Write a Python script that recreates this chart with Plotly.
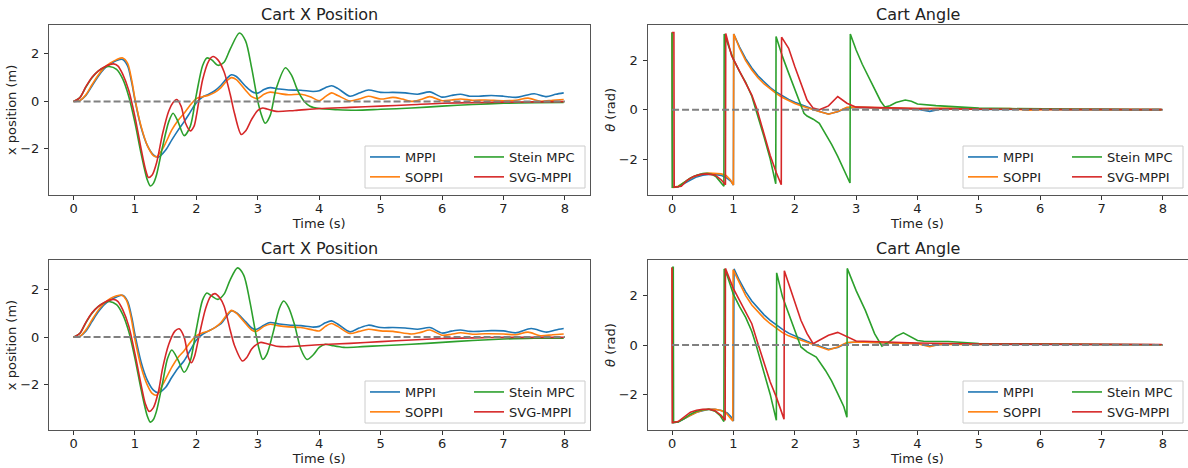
import plotly.graph_objects as go

# ---------------- Cart X Position (top run) ----------------
t_xa_mppi = [0, 0.1, 0.2, 0.3, 0.4, 0.5, 0.6, 0.7, 0.8, 0.88, 0.95, 1.0, 1.1, 1.2, 1.3, 1.38, 1.5, 1.6, 1.7, 1.8, 1.9, 2.0, 2.1, 2.2, 2.3, 2.4, 2.5, 2.57, 2.65, 2.8, 2.9, 3.0, 3.1, 3.2, 3.35, 3.5, 3.7, 3.9, 4.0, 4.1, 4.2, 4.3, 4.5, 4.65, 4.8, 5.0, 5.2, 5.4, 5.6, 5.8, 6.0, 6.15, 6.3, 6.45, 6.6, 6.8, 7.0, 7.2, 7.35, 7.5, 7.7, 7.85, 7.98]
x_xa_mppi = [0, 0.03, 0.25, 0.65, 1.05, 1.38, 1.58, 1.72, 1.77, 1.5, 0.75, 0.05, -1.1, -1.85, -2.25, -2.35, -2.05, -1.62, -1.22, -0.85, -0.45, -0.05, 0.18, 0.3, 0.45, 0.68, 0.98, 1.12, 1.05, 0.64, 0.42, 0.35, 0.5, 0.58, 0.52, 0.48, 0.47, 0.42, 0.45, 0.58, 0.66, 0.55, 0.22, 0.35, 0.48, 0.38, 0.38, 0.36, 0.3, 0.4, 0.18, 0.25, 0.3, 0.22, 0.22, 0.25, 0.22, 0.17, 0.25, 0.32, 0.2, 0.3, 0.36]

t_xa_soppi = [0, 0.1, 0.2, 0.3, 0.4, 0.5, 0.6, 0.7, 0.8, 0.88, 0.95, 1.0, 1.1, 1.2, 1.3, 1.35, 1.45, 1.6, 1.7, 1.8, 1.9, 2.0, 2.1, 2.2, 2.3, 2.4, 2.5, 2.57, 2.65, 2.8, 2.9, 3.0, 3.1, 3.2, 3.35, 3.5, 3.7, 3.85, 4.0, 4.1, 4.2, 4.3, 4.5, 4.65, 4.8, 5.0, 5.2, 5.35, 5.5, 5.65, 5.8, 6.0, 6.15, 6.3, 6.5, 6.7, 7.0, 7.2, 7.4, 7.6, 7.8, 7.98]
x_xa_soppi = [0, 0.03, 0.28, 0.7, 1.1, 1.42, 1.62, 1.76, 1.83, 1.6, 0.85, 0.1, -1.05, -1.85, -2.28, -2.33, -2.0, -1.2, -0.8, -0.5, -0.15, 0.12, 0.2, 0.26, 0.38, 0.58, 0.88, 1.0, 0.92, 0.47, 0.2, 0.12, 0.3, 0.39, 0.33, 0.28, 0.3, 0.2, 0.03, 0.2, 0.36, 0.25, 0.02, 0.1, 0.22, 0.1, 0.17, 0.1, 0.0, 0.08, 0.2, 0.03, 0.06, 0.1, 0.05, 0.06, 0.03, 0.05, 0.14, 0.01, 0.05, 0.08]

t_xa_stein = [0, 0.1, 0.2, 0.3, 0.4, 0.5, 0.58, 0.7, 0.8, 0.9, 1.0, 1.1, 1.2, 1.25, 1.3, 1.35, 1.45, 1.55, 1.62, 1.7, 1.8, 1.9, 2.0, 2.1, 2.17, 2.25, 2.35, 2.45, 2.55, 2.7, 2.8, 2.9, 3.0, 3.05, 3.12, 3.2, 3.3, 3.45, 3.55, 3.65, 3.75, 3.85, 4.0, 4.3, 4.6, 5.0, 5.5, 6.0, 6.5, 7.0, 7.5, 7.98]
x_xa_stein = [0, 0.15, 0.6, 1.0, 1.28, 1.43, 1.47, 1.35, 0.95, 0.2, -0.9, -2.2, -3.3, -3.56, -3.45, -3.1, -1.9, -0.85, -0.5, -0.85, -1.44, -1.05, 0.3, 1.5, 1.83, 1.75, 1.52, 1.65, 2.2, 2.88, 2.55, 1.4, 0.0, -0.5, -0.92, -0.6, 0.55, 1.42, 1.1, 0.45, 0.02, -0.2, -0.3, -0.35, -0.37, -0.33, -0.28, -0.2, -0.13, -0.08, -0.05, -0.04]

t_xa_svg = [0, 0.1, 0.2, 0.3, 0.4, 0.5, 0.6, 0.65, 0.72, 0.8, 0.9, 1.0, 1.1, 1.17, 1.22, 1.28, 1.35, 1.45, 1.55, 1.62, 1.68, 1.75, 1.82, 1.9, 1.96, 2.0, 2.1, 2.2, 2.27, 2.35, 2.45, 2.55, 2.62, 2.73, 2.8, 2.9, 3.0, 3.08, 3.15, 3.3, 3.6, 4.0, 4.5, 5.0, 5.5, 6.0, 6.5, 7.0, 7.5, 7.98]
x_xa_svg = [0, 0.15, 0.62, 1.02, 1.28, 1.45, 1.56, 1.58, 1.5, 1.15, 0.45, -0.65, -2.0, -2.85, -3.2, -3.1, -2.6, -1.35, -0.4, -0.05, 0.08, -0.2, -0.9, -1.24, -1.05, -0.6, 0.9, 1.7, 1.89, 1.75, 1.25, 0.3, -0.5, -1.39, -1.25, -0.75, -0.38, -0.28, -0.32, -0.42, -0.38, -0.3, -0.25, -0.2, -0.14, -0.08, -0.05, -0.03, -0.02, -0.01]

# ---------------- Cart X Position (bottom run) ----------------
t_xb_mppi = [0, 0.1, 0.2, 0.3, 0.4, 0.5, 0.6, 0.7, 0.8, 0.88, 0.95, 1.0, 1.1, 1.2, 1.3, 1.38, 1.5, 1.6, 1.7, 1.8, 1.9, 2.0, 2.1, 2.2, 2.3, 2.4, 2.5, 2.57, 2.65, 2.8, 2.9, 2.97, 3.1, 3.2, 3.35, 3.5, 3.7, 3.9, 4.0, 4.1, 4.2, 4.3, 4.5, 4.65, 4.8, 5.0, 5.2, 5.4, 5.6, 5.8, 6.0, 6.15, 6.3, 6.45, 6.6, 6.8, 7.0, 7.2, 7.45, 7.7, 7.85, 7.98]
x_xb_mppi = [0, 0.03, 0.25, 0.65, 1.05, 1.36, 1.55, 1.68, 1.75, 1.5, 0.8, 0.1, -1.05, -1.8, -2.22, -2.33, -2.1, -1.68, -1.3, -0.99, -0.55, -0.12, 0.12, 0.26, 0.4, 0.56, 0.9, 1.1, 1.02, 0.65, 0.38, 0.32, 0.5, 0.61, 0.55, 0.51, 0.48, 0.42, 0.45, 0.6, 0.68, 0.55, 0.22, 0.38, 0.5, 0.4, 0.4, 0.38, 0.33, 0.4, 0.17, 0.25, 0.3, 0.24, 0.24, 0.27, 0.26, 0.18, 0.36, 0.21, 0.3, 0.36]

t_xb_soppi = [0, 0.1, 0.2, 0.3, 0.4, 0.5, 0.6, 0.7, 0.78, 0.86, 0.93, 1.0, 1.1, 1.2, 1.28, 1.35, 1.45, 1.6, 1.7, 1.8, 1.9, 2.0, 2.1, 2.2, 2.3, 2.4, 2.5, 2.57, 2.65, 2.8, 2.9, 2.97, 3.1, 3.2, 3.35, 3.5, 3.7, 3.9, 4.0, 4.1, 4.2, 4.3, 4.5, 4.65, 4.8, 5.0, 5.2, 5.5, 5.65, 5.8, 6.0, 6.15, 6.3, 6.5, 6.7, 7.0, 7.2, 7.4, 7.6, 7.8, 7.98]
x_xb_soppi = [0, 0.03, 0.3, 0.72, 1.12, 1.42, 1.62, 1.73, 1.76, 1.55, 0.9, -0.1, -1.25, -2.0, -2.36, -2.43, -2.0, -1.26, -0.85, -0.57, -0.22, 0.06, 0.18, 0.26, 0.4, 0.61, 0.95, 1.12, 1.0, 0.57, 0.3, 0.24, 0.45, 0.54, 0.47, 0.43, 0.4, 0.3, 0.26, 0.45, 0.57, 0.45, 0.15, 0.24, 0.33, 0.26, 0.24, 0.13, 0.2, 0.3, 0.08, 0.12, 0.18, 0.12, 0.14, 0.13, 0.1, 0.21, 0.06, 0.1, 0.13]

t_xb_stein = [0, 0.1, 0.2, 0.3, 0.4, 0.5, 0.58, 0.7, 0.8, 0.9, 1.0, 1.1, 1.2, 1.25, 1.3, 1.35, 1.45, 1.53, 1.6, 1.7, 1.8, 1.9, 2.0, 2.1, 2.17, 2.25, 2.35, 2.45, 2.55, 2.67, 2.77, 2.87, 2.97, 3.02, 3.08, 3.15, 3.25, 3.35, 3.42, 3.5, 3.6, 3.7, 3.8, 3.9, 4.0, 4.1, 4.2, 4.4, 4.7, 5.0, 5.5, 6.0, 6.5, 7.0, 7.5, 7.98]
x_xb_stein = [0, 0.15, 0.6, 1.0, 1.28, 1.44, 1.49, 1.36, 0.95, 0.22, -0.9, -2.2, -3.3, -3.56, -3.45, -3.1, -1.9, -0.9, -0.54, -0.95, -1.47, -1.0, 0.35, 1.55, 1.85, 1.72, 1.58, 1.8, 2.4, 2.9, 2.6, 1.5, 0.1, -0.5, -0.93, -0.7, 0.2, 1.2, 1.51, 1.25, 0.5, -0.5, -0.94, -0.75, -0.43, -0.3, -0.35, -0.43, -0.4, -0.36, -0.3, -0.22, -0.14, -0.08, -0.05, -0.04]

t_xb_svg = [0, 0.1, 0.2, 0.3, 0.4, 0.5, 0.6, 0.65, 0.72, 0.8, 0.9, 1.0, 1.1, 1.17, 1.23, 1.3, 1.38, 1.45, 1.55, 1.65, 1.72, 1.8, 1.87, 1.92, 1.97, 2.05, 2.15, 2.23, 2.3, 2.38, 2.45, 2.55, 2.62, 2.75, 2.82, 2.9, 3.0, 3.05, 3.15, 3.3, 3.5, 4.0, 4.5, 5.0, 5.5, 6.0, 6.5, 7.0, 7.98]
x_xb_svg = [0, 0.15, 0.62, 1.02, 1.28, 1.45, 1.56, 1.58, 1.5, 1.15, 0.45, -0.7, -2.0, -2.8, -3.11, -2.95, -2.3, -1.3, -0.3, 0.25, 0.35, 0.0, -0.85, -1.07, -0.8, 0.13, 1.2, 1.7, 1.82, 1.65, 1.3, 0.3, -0.35, -1.0, -0.85, -0.5, -0.27, -0.22, -0.28, -0.38, -0.4, -0.32, -0.26, -0.19, -0.12, -0.06, -0.03, -0.01, -0.01]

# ---------------- Cart Angle (top run) ----------------
t_aa_mppi = [0, 0.01, 0.1, 0.2, 0.3, 0.4, 0.5, 0.6, 0.7, 0.8, 0.9, 0.96, 1.0, 1.005, 1.1, 1.2, 1.3, 1.4, 1.5, 1.6, 1.7, 1.8, 1.9, 2.0, 2.1, 2.2, 2.3, 2.4, 2.55, 2.7, 2.85, 3.0, 3.3, 3.6, 4.0, 4.2, 4.35, 4.6, 5.0, 5.5, 6.0, 6.5, 7.0, 7.5, 7.98]
a_aa_mppi = [3.14, -3.14, -3.12, -3.0, -2.85, -2.72, -2.65, -2.62, -2.62, -2.66, -2.78, -2.9, -3.05, 3.08, 2.55, 2.08, 1.7, 1.38, 1.12, 0.9, 0.72, 0.56, 0.42, 0.31, 0.21, 0.12, 0.03, -0.07, -0.17, -0.08, 0.08, 0.1, 0.08, 0.06, 0.03, -0.06, 0.02, 0.05, 0.02, 0.02, 0.03, 0.0, 0.02, 0.0, 0.01]

t_aa_soppi = [0, 0.01, 0.1, 0.2, 0.3, 0.4, 0.5, 0.6, 0.7, 0.8, 0.88, 0.95, 1.0, 1.005, 1.1, 1.2, 1.3, 1.4, 1.5, 1.6, 1.7, 1.8, 1.9, 2.0, 2.1, 2.2, 2.3, 2.4, 2.55, 2.7, 2.85, 3.0, 3.3, 3.6, 4.0, 4.5, 5.0, 5.5, 5.8, 6.2, 7.0, 7.98]
a_aa_soppi = [3.14, -3.14, -3.1, -2.95, -2.78, -2.67, -2.6, -2.57, -2.57, -2.6, -2.66, -2.84, -3.05, 3.08, 2.5, 2.0, 1.62, 1.3, 1.05, 0.84, 0.66, 0.5, 0.37, 0.26, 0.17, 0.1, 0.02, -0.07, -0.18, -0.07, 0.1, 0.11, 0.09, 0.07, 0.05, 0.07, 0.03, 0.05, -0.01, 0.02, 0.01, 0.01]

t_aa_stein = [0, 0.005, 0.1, 0.2, 0.3, 0.4, 0.5, 0.57, 0.65, 0.72, 0.8, 0.845, 0.85, 0.9, 1.0, 1.1, 1.2, 1.3, 1.37, 1.5, 1.6, 1.69, 1.695, 1.8, 1.9, 2.0, 2.1, 2.15, 2.2, 2.3, 2.4, 2.5, 2.6, 2.7, 2.8, 2.9, 2.905, 3.0, 3.1, 3.2, 3.3, 3.4, 3.47, 3.55, 3.65, 3.8, 3.9, 4.0, 4.3, 4.6, 5.0, 5.5, 6.0, 7.0, 7.98]
a_aa_stein = [3.14, -3.14, -3.12, -2.95, -2.76, -2.65, -2.59, -2.58, -2.62, -2.72, -2.95, -3.1, 3.08, 2.75, 2.05, 1.55, 1.12, 0.55, 0.0, -1.1, -2.0, -3.0, 2.98, 2.16, 1.49, 0.81, 0.14, -0.14, -0.25, -0.38, -0.55, -0.95, -1.4, -1.89, -2.4, -2.97, 3.08, 2.43, 1.85, 1.35, 0.85, 0.35, 0.11, 0.17, 0.3, 0.4, 0.35, 0.24, 0.17, 0.12, 0.07, 0.05, 0.03, 0.02, 0.01]

t_aa_svg = [0, 0.03, 0.035, 0.15, 0.25, 0.35, 0.45, 0.55, 0.7, 0.8, 0.87, 0.875, 0.97, 1.1, 1.2, 1.3, 1.38, 1.5, 1.6, 1.7, 1.78, 1.785, 1.9, 2.0, 2.1, 2.2, 2.3, 2.4, 2.55, 2.7, 2.85, 3.0, 3.5, 4.0, 5.0, 6.0, 7.0, 7.98]
a_aa_svg = [3.14, 3.14, -3.14, -3.1, -2.85, -2.7, -2.63, -2.6, -2.64, -2.84, -3.04, 3.1, 2.2, 1.55, 1.1, 0.6, 0.05, -1.0, -1.85, -2.55, -3.04, 2.95, 2.5, 1.76, 1.08, 0.4, 0.07, 0.0, 0.16, 0.54, 0.27, 0.11, 0.08, 0.05, 0.03, 0.02, 0.01, 0.01]

# ---------------- Cart Angle (bottom run) ----------------
t_ab_mppi = [0, 0.01, 0.1, 0.2, 0.3, 0.4, 0.5, 0.6, 0.7, 0.8, 0.9, 0.96, 1.0, 1.01, 1.1, 1.2, 1.3, 1.4, 1.5, 1.6, 1.7, 1.8, 1.9, 2.0, 2.1, 2.2, 2.3, 2.4, 2.55, 2.7, 2.85, 3.0, 3.5, 4.0, 4.2, 4.5, 5.0, 6.0, 7.0, 7.98]
a_ab_mppi = [3.14, -3.14, -3.12, -3.0, -2.85, -2.72, -2.65, -2.6, -2.6, -2.65, -2.75, -2.9, -3.08, 3.08, 2.6, 2.15, 1.78, 1.48, 1.22, 1.0, 0.8, 0.63, 0.48, 0.36, 0.25, 0.15, 0.05, -0.05, -0.17, -0.1, 0.08, 0.12, 0.1, 0.05, -0.03, 0.04, 0.02, 0.03, 0.02, 0.01]

t_ab_soppi = [0, 0.01, 0.1, 0.2, 0.3, 0.4, 0.5, 0.6, 0.7, 0.8, 0.88, 0.95, 0.99, 0.995, 1.1, 1.2, 1.3, 1.4, 1.5, 1.6, 1.7, 1.8, 1.9, 2.0, 2.1, 2.2, 2.3, 2.4, 2.55, 2.7, 2.85, 3.0, 3.5, 4.0, 4.2, 4.35, 5.0, 5.5, 6.0, 7.0, 7.98]
a_ab_soppi = [3.14, -3.14, -3.1, -2.98, -2.85, -2.72, -2.64, -2.6, -2.6, -2.65, -2.75, -2.95, -3.08, 3.05, 2.5, 2.0, 1.62, 1.33, 1.08, 0.86, 0.67, 0.5, 0.37, 0.28, 0.18, 0.1, 0.02, -0.08, -0.2, -0.08, 0.1, 0.12, 0.1, 0.05, -0.07, 0.02, 0.02, 0.03, 0.04, 0.02, 0.01]

t_ab_stein = [0, 0.02, 0.025, 0.1, 0.2, 0.3, 0.4, 0.5, 0.6, 0.7, 0.78, 0.845, 0.85, 0.9, 1.0, 1.1, 1.2, 1.3, 1.37, 1.5, 1.6, 1.7, 1.705, 1.8, 1.9, 2.0, 2.1, 2.2, 2.35, 2.5, 2.6, 2.7, 2.8, 2.85, 2.855, 3.0, 3.15, 3.3, 3.42, 3.55, 3.65, 3.77, 3.9, 4.0, 4.1, 4.5, 5.0, 6.0, 7.0, 7.98]
a_ab_stein = [3.14, 3.14, -3.14, -3.12, -2.98, -2.8, -2.68, -2.62, -2.6, -2.68, -2.85, -3.1, 3.08, 2.8, 2.05, 1.55, 1.12, 0.55, 0.0, -1.1, -2.0, -3.05, 2.92, 1.95, 1.27, 0.6, -0.08, -0.28, -0.49, -1.03, -1.45, -1.97, -2.5, -2.92, 3.1, 2.2, 1.4, 0.46, -0.05, 0.15, 0.35, 0.49, 0.3, 0.18, 0.15, 0.14, 0.06, 0.03, 0.02, 0.01]

t_ab_svg = [0, 0.005, 0.1, 0.2, 0.3, 0.4, 0.5, 0.6, 0.7, 0.8, 0.865, 0.87, 0.95, 1.0, 1.1, 1.2, 1.3, 1.4, 1.5, 1.6, 1.7, 1.8, 1.825, 1.83, 1.9, 2.0, 2.1, 2.2, 2.3, 2.4, 2.55, 2.7, 2.85, 3.0, 3.5, 4.0, 5.0, 6.0, 7.0, 7.98]
a_ab_svg = [3.14, -3.14, -3.1, -2.92, -2.72, -2.64, -2.6, -2.6, -2.66, -2.85, -3.05, 3.1, 2.6, 2.28, 1.81, 1.34, 0.86, 0.05, -0.76, -1.5, -2.11, -2.78, -3.0, 3.0, 2.49, 1.74, 1.0, 0.46, 0.05, 0.19, 0.39, 0.51, 0.32, 0.16, 0.12, 0.08, 0.04, 0.03, 0.02, 0.02]

# reference (target) line
t_ref = [0, 8]
v_ref = [0, 0]

series_names = ["MPPI", "SOPPI", "Stein MPC", "SVG-MPPI"]
series_colors = ["#1f77b4", "#ff7f0e", "#2ca02c", "#d62728"]
series_column = [0, 0, 1, 1]

panels = [
    dict(xa="x", ya="y", shape="spline",
         data=[(t_xa_mppi, x_xa_mppi), (t_xa_soppi, x_xa_soppi), (t_xa_stein, x_xa_stein), (t_xa_svg, x_xa_svg)]),
    dict(xa="x2", ya="y2", shape="linear",
         data=[(t_aa_mppi, a_aa_mppi), (t_aa_soppi, a_aa_soppi), (t_aa_stein, a_aa_stein), (t_aa_svg, a_aa_svg)]),
    dict(xa="x3", ya="y3", shape="spline",
         data=[(t_xb_mppi, x_xb_mppi), (t_xb_soppi, x_xb_soppi), (t_xb_stein, x_xb_stein), (t_xb_svg, x_xb_svg)]),
    dict(xa="x4", ya="y4", shape="linear",
         data=[(t_ab_mppi, a_ab_mppi), (t_ab_soppi, a_ab_soppi), (t_ab_stein, a_ab_stein), (t_ab_svg, a_ab_svg)]),
]

def legend_id(n):
    return "legend" if n == 1 else f"legend{n}"

fig = go.Figure()
for pi, p in enumerate(panels):
    for i, (tt, vv) in enumerate(p["data"]):
        fig.add_trace(go.Scatter(
            x=tt, y=vv, mode="lines", name=series_names[i],
            line=dict(color=series_colors[i], width=1.6, shape=p["shape"], smoothing=0.8),
            xaxis=p["xa"], yaxis=p["ya"], legend=legend_id(2 * pi + 1 + series_column[i]),
        ))
    fig.add_trace(go.Scatter(
        x=t_ref, y=v_ref, mode="lines", showlegend=False,
        line=dict(color="#808080", width=2, dash="7px,3px"),
        xaxis=p["xa"], yaxis=p["ya"], hoverinfo="skip",
    ))

W, H = 1188, 468
FONT = "DejaVu Sans"
left_dom = [49 / W, 589.5 / W]
right_dom = [647.5 / W, 1187.5 / W]
top_dom = [1 - 195 / H, 1 - 24.7 / H]
bot_dom = [1 - 430 / H, 1 - 260 / H]

def xax(dom, anchor):
    return dict(domain=dom, anchor=anchor, range=[-0.4, 8.4], tickvals=list(range(0, 9)),
                showline=True, mirror=True, linecolor="#555555", linewidth=1,
                ticks="outside", ticklen=4, tickcolor="#333333", showgrid=False, zeroline=False,
                ticklabelstandoff=-3,
                tickfont=dict(family=FONT, size=13, color="#222222"),
                title=dict(text="Time (s)", font=dict(family=FONT, size=13, color="#222222"), standoff=0))

def yax(dom, anchor, rng, title):
    return dict(domain=dom, anchor=anchor, range=rng, tickvals=[-2, 0, 2],
                showline=True, mirror=True, linecolor="#555555", linewidth=1,
                ticks="outside", ticklen=4, tickcolor="#333333", showgrid=False, zeroline=False,
                ticklabelstandoff=2,
                tickfont=dict(family=FONT, size=13, color="#222222"),
                title=dict(text=title, font=dict(family=FONT, size=13, color="#222222"), standoff=0))

# legend frames (pixel coordinates: left, right, top, bottom)
legend_boxes = [(365, 585, 146, 188), (963, 1183, 146, 188), (365, 585, 381, 423), (963, 1183, 381, 423)]
COL_PITCH = 104

def legend_col(box, col):
    l, r, t, b = box
    return dict(orientation="v", xref="paper", yref="paper",
                x=(l + col * COL_PITCH) / W, xanchor="left", y=1 - (t - 4) / H, yanchor="top",
                bgcolor="rgba(0,0,0,0)", borderwidth=0,
                font=dict(family=FONT, size=13, color="#222222"))

legends = {}
for pi, box in enumerate(legend_boxes):
    for col in (0, 1):
        legends[legend_id(2 * pi + 1 + col)] = legend_col(box, col)

shapes = []
for (l, r, t, b) in legend_boxes:
    shapes.append(dict(type="rect", xref="paper", yref="paper", x0=l / W, x1=r / W, y0=1 - b / H, y1=1 - t / H,
                       line=dict(color="#cccccc", width=1), fillcolor="rgba(255,255,255,0.8)", layer="above"))

fig.update_layout(
    width=W, height=H, margin=dict(l=0, r=0, t=0, b=0),
    paper_bgcolor="white", plot_bgcolor="white",
    font=dict(family=FONT, size=13, color="#222222"),
    xaxis=xax(left_dom, "y"), yaxis=yax(top_dom, "x", [-3.94, 3.23], "x position (m)"),
    xaxis2=xax(right_dom, "y2"), yaxis2=yax(top_dom, "x2", [-3.456, 3.456], "<i>θ</i> (rad)"),
    xaxis3=xax(left_dom, "y3"), yaxis3=yax(bot_dom, "x3", [-3.89, 3.23], "x position (m)"),
    xaxis4=xax(right_dom, "y4"), yaxis4=yax(bot_dom, "x4", [-3.44, 3.44], "<i>θ</i> (rad)"),
    shapes=shapes,
    **legends,
)

titles = [("Cart X Position", left_dom, 14.5), ("Cart Angle", right_dom, 14.5),
          ("Cart X Position", left_dom, 248.5), ("Cart Angle", right_dom, 248.5)]
for text, dom, yc in titles:
    fig.add_annotation(text=text, xref="paper", yref="paper", x=(dom[0] + dom[1]) / 2, y=1 - yc / H,
                       xanchor="center", yanchor="middle", showarrow=False,
                       font=dict(family=FONT, size=16, color="#222222"))

fig.write_html("out.html", config={"displayModeBar": False},
               post_script="document.body.style.margin='0px';document.body.style.padding='0px';")
